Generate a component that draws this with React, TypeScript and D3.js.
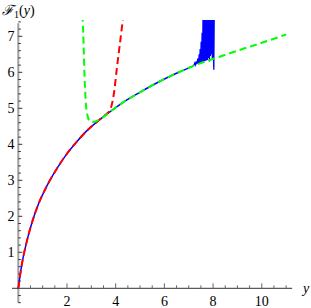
import React from 'react';
import * as d3 from 'd3';

// shared branch of all three curves
const baseX = [0, 0.05, 0.15, 0.36, 0.56, 0.84, 1.18, 1.59, 2.0, 2.4, 2.82, 3.37, 3.8, 4.32, 5.01, 5.7, 6.52, 7.2, 7.9, 8.3, 9.0, 10.0, 11.0];
const baseY = [0, 0.25, 0.68, 1.33, 1.82, 2.36, 2.85, 3.33, 3.74, 4.07, 4.38, 4.7, 4.92, 5.17, 5.45, 5.71, 5.98, 6.18, 6.35, 6.44, 6.6, 6.82, 7.05];

// red blows up past ~3.6
const redTailX = [3.6, 3.78, 3.92, 4.05, 4.19, 4.32];
const redTailY = [4.83, 4.97, 5.38, 6.12, 6.89, 7.6];

// green comes down from the top before joining
const greenHeadX = [2.64, 2.68, 2.72, 2.78, 2.86, 2.93, 3.05, 3.2];
const greenHeadY = [7.6, 6.8, 5.9, 5.1, 4.75, 4.64, 4.62, 4.64];

// blue goes noisy near 7.5
const blueTailX = [7.2, 7.25, 7.28, 7.31, 7.34, 7.37, 7.4, 7.43, 7.45, 7.47, 7.49, 7.51, 7.53, 7.55, 7.57, 7.59, 7.61, 7.63, 7.65, 7.67, 7.69, 7.71, 7.73, 7.75, 7.77, 7.79, 7.81, 7.83, 7.85, 7.87, 7.89, 7.91, 7.93, 7.95, 7.97, 7.99, 8.01, 8.03, 8.05];
const blueTailY = [6.18, 6.26, 6.21, 6.3, 6.23, 6.38, 6.25, 6.5, 6.26, 6.65, 6.27, 6.85, 6.28, 7.1, 6.29, 7.8, 6.3, 7.8, 6.31, 7.8, 6.32, 7.8, 6.33, 7.8, 6.34, 7.8, 6.4, 7.8, 6.3, 7.8, 6.45, 7.8, 6.5, 7.8, 6.35, 7.8, 6.6, 6.07, 7.8];

const xTicks = [2, 4, 6, 8, 10];
const yTicks = [1, 2, 3, 4, 5, 6, 7];

const W = 311;
const H = 308;

export default function App() {
  const x = d3.scaleLinear().domain([0, 11.25]).range([18.3, 292.2]);
  const y = d3.scaleLinear().domain([0, 7.4]).range([288.3, 21.9]);

  const pts = (xs: number[], ys: number[]) => xs.map((v, i) => [v, ys[i]] as [number, number]);
  const base = pts(baseX, baseY);

  const redData = base.filter(d => d[0] < 3.5).concat(pts(redTailX, redTailY));
  const greenData = pts(greenHeadX, greenHeadY).concat(base.filter(d => d[0] > 3.3));
  const blueSmooth = base.filter(d => d[0] <= 7.2);
  const blueNoise = pts(blueTailX, blueTailY);

  const smooth = d3.line<[number, number]>()
    .x(d => x(d[0]))
    .y(d => y(d[1]))
    .curve(d3.curveMonotoneX);
  const straight = d3.line<[number, number]>()
    .x(d => x(d[0]))
    .y(d => y(d[1]));

  const minorX = d3.range(0.5, 11.01, 0.5).filter(v => Math.abs(v % 2) > 0.01);
  const minorY = d3.range(-0.4, 7.41, 0.2).filter(v => Math.abs(v - Math.round(v)) > 0.01);

  const font = '"Liberation Serif", "DejaVu Serif", serif';

  return (
    <svg width={W} height={H} style={{ position: 'absolute', left: 0, top: 0, background: '#fff' }}>
      <defs>
        <clipPath id="plot">
          <rect x={0} y={20} width={W} height={H - 20} />
        </clipPath>
      </defs>

      {/* axes */}
      <line x1={x(0)} x2={x(0)} y1={y(-0.4)} y2={y(7.36)} stroke="#a0a0a0" strokeWidth={2} />
      <line x1={12} x2={x(11.25)} y1={y(0)} y2={y(0)} stroke="#333" strokeWidth={1} />

      {xTicks.map(t => (
        <g key={'xt' + t}>
          <line x1={x(t)} x2={x(t)} y1={y(0)} y2={y(0) - 5} stroke="#666" />
          <text x={x(t)} y={306} textAnchor="middle" fontFamily={font} fontSize={14}>{t}</text>
        </g>
      ))}
      {minorX.map(t => (
        <line key={'xm' + t} x1={x(t)} x2={x(t)} y1={y(0)} y2={y(0) - 3} stroke="#666" />
      ))}
      {yTicks.map(t => (
        <g key={'yt' + t}>
          <line x1={x(0)} x2={x(0) + 4} y1={y(t)} y2={y(t)} stroke="#333" />
          <text x={14.5} y={y(t) + 4.5} textAnchor="end" fontFamily={font} fontSize={14}>{t}</text>
        </g>
      ))}
      {minorY.map(t => (
        <line key={'ym' + t} x1={x(0)} x2={x(0) + 2.5} y1={y(t)} y2={y(t)} stroke="#333" />
      ))}

      {/* curves */}
      <g clipPath="url(#plot)" fill="none">
        <path d={smooth(blueSmooth) || ''} stroke="#0000ff" strokeWidth={1.5} />
        <path d={straight(blueNoise) || ''} stroke="#0000ff" strokeWidth={1.3} />
        <path d={smooth(redData) || ''} stroke="#ff0000" strokeWidth={2} strokeDasharray="7,4" />
        <path d={smooth(greenData) || ''} stroke="#00ff00" strokeWidth={2} strokeDasharray="7,4" />
      </g>

      {/* axis labels */}
      <text x={303} y={293} fontFamily={font} fontSize={14} fontStyle="italic">y</text>
      <text x={2} y={15} fontFamily={font} fontSize={14}>
        <tspan fontFamily='"DejaVu Serif", serif' fontStyle="italic">ℱ</tspan>
        <tspan fontSize={10} dy={3}>1</tspan>
        <tspan dy={-3}>(</tspan>
        <tspan fontStyle="italic">y</tspan>
        <tspan>)</tspan>
      </text>
    </svg>
  );
}
